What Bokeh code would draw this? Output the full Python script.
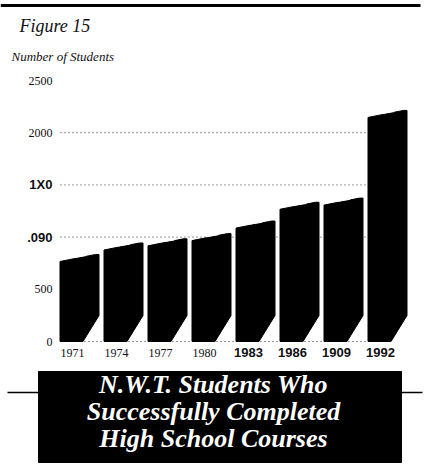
from bokeh.plotting import figure
from bokeh.models import Range1d, ColumnDataSource, Label
from bokeh.core.properties import value
from bokeh.embed import file_html
from bokeh.resources import INLINE

# ---- data ----
years = ["1971", "1974", "1977", "1980", "1983", "1986", "1909", "1992"]
students = [800, 910, 950, 1000, 1120, 1300, 1340, 2180]
y_ticks = [0, 500, 1000, 1500, 2000, 2500]
y_tick_labels = ["0", "500", ".090", "1X0", "2000", "2500"]
grid_levels = [0, 1000, 1500, 2000]
title_lines = ["N.W.T. Students Who", "Successfully Completed", "High School Courses"]
figure_label = "Figure 15"
axis_title = "Number of Students"

# ---- layout constants (pixels) ----
W, H = 425, 471
SX = 44.0      # px per category step
CX0 = 79.0     # px of first bar centre
SY = 0.1044    # px per student
ZY = 341.0     # px of zero line (from top)


def dx(px):
    return (px - CX0) / SX


def dy(py):
    return (ZY - py) / SY


p = figure(width=W, height=H, output_backend="svg", toolbar_location=None,
           x_axis_location=None, y_axis_location=None, min_border=0,
           x_range=Range1d(-CX0 / SX, (W - CX0) / SX),
           y_range=Range1d((ZY - H) / SY, ZY / SY))
p.outline_line_color = None
p.xgrid.grid_line_color = None
p.ygrid.grid_line_color = None
p.background_fill_color = "white"
p.border_fill_color = "white"

# ---- dotted reference lines ----
g_x0 = dx(60)
g_x1 = len(years) - 1
p.segment(x0=[g_x0] * len(grid_levels), x1=[g_x1] * len(grid_levels),
          y0=grid_levels, y1=grid_levels, line_color="#333333",
          line_dash="1 3", line_width=1)

# ---- bars (pseudo 3D slabs) ----
hw = 19.5 / SX
tilt = 3.5 / SY
chamf_h = 26 / SY
chamf_w = 16 / SX
xs, ys = [], []
for i, v in enumerate(students):
    l, r = i - hw, i + hw
    xs.append([l, l, r - 0.08, r, r, r - chamf_w])
    ys.append([0, v - tilt, v + tilt, v + tilt, chamf_h, 0])
p.patches(xs, ys, fill_color="black", line_color="black", line_width=1)

# small highlight on top faces
p.segment(x0=[i - 0.12 for i in range(len(years))],
          x1=[i + 0.15 for i in range(len(years))],
          y0=[v + 0.2 * tilt for v in students],
          y1=[v + 0.75 * tilt for v in students],
          line_color="white", line_width=1.5)

# ---- x labels ----
xl_font = ["Liberation Serif"] * 4 + ["Liberation Sans"] * 4
xl_style = ["normal"] * 4 + ["bold"] * 4
xl_size = ["12px"] * 4 + ["13px"] * 4
xsrc = ColumnDataSource(dict(x=list(range(len(years))), y=[0] * len(years),
                             t=years, f=xl_font, s=xl_style, z=xl_size))
p.text(x="x", y="y", text="t", source=xsrc, text_font="f", text_font_style="s",
       text_font_size="z", text_align="center", text_baseline="middle",
       x_offset=-7, y_offset=11, text_color="#111111")

# ---- y labels ----
yl_font = ["Liberation Serif", "Liberation Serif", "Liberation Sans",
           "Liberation Sans", "Liberation Serif", "Liberation Serif"]
yl_style = ["normal", "normal", "bold", "bold", "normal", "normal"]
yl_size = ["12px", "12px", "13px", "13px", "12px", "12px"]
ysrc = ColumnDataSource(dict(x=[dx(52)] * len(y_ticks), y=y_ticks,
                             t=y_tick_labels, f=yl_font, s=yl_style, z=yl_size))
p.text(x="x", y="y", text="t", source=ysrc, text_font="f", text_font_style="s",
       text_font_size="z", text_align="right", text_baseline="middle",
       text_color="#111111")

# ---- headings ----
p.add_layout(Label(x=dx(19), y=dy(25), text=figure_label,
                   text_font="Liberation Serif", text_font_style="italic",
                   text_font_size="18px", text_baseline="middle",
                   text_color="#111111"))
p.add_layout(Label(x=dx(11), y=dy(56), text=axis_title,
                   text_font="Liberation Serif", text_font_style="italic",
                   text_font_size="13px", text_baseline="middle",
                   text_color="#111111"))

# top rule
p.segment(x0=[dx(0)], x1=[dx(420)], y0=[dy(5)], y1=[dy(5)],
          line_color="black", line_width=3)

# ---- title box ----
p.segment(x0=[dx(7), dx(400)], x1=[dx(38), dx(422)],
          y0=[dy(392), dy(392)], y1=[dy(392), dy(392)],
          line_color="black", line_width=1.5)
p.quad(left=[dx(38)], right=[dx(401)], top=[dy(371)], bottom=[dy(462)],
       fill_color="black", line_color="black")
p.text(x=[dx(213)] * 3, y=[dy(384), dy(411), dy(438)], text=title_lines,
       text_font=value("Liberation Serif"), text_font_style="bold italic",
       text_font_size="26px", text_align="center", text_baseline="middle",
       text_color="white")

open("out.html", "w").write(file_html(p, INLINE))
